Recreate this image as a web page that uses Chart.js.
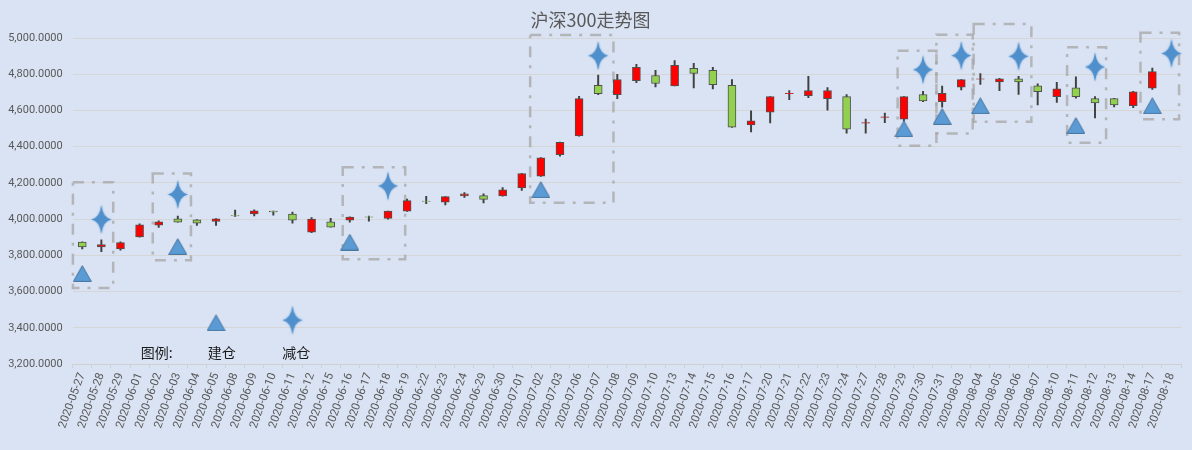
<!DOCTYPE html>
<html>
<head>
<meta charset="utf-8">
<title>沪深300走势图</title>
<script src="https://cdn.jsdelivr.net/npm/chart.js"></script>
<style>
  html, body { margin: 0; padding: 0; background: #dae3f3; }
  .chart-box { width: 1192px; height: 450px; position: relative; }
</style>
</head>
<body>
<div class="chart-box"><canvas id="hs300"></canvas></div>
<script>
// trading days
var dates = ['2020-05-27','2020-05-28','2020-05-29','2020-06-01','2020-06-02','2020-06-03','2020-06-04','2020-06-05',
    '2020-06-08','2020-06-09','2020-06-10','2020-06-11','2020-06-12','2020-06-15','2020-06-16','2020-06-17','2020-06-18',
    '2020-06-19','2020-06-22','2020-06-23','2020-06-24','2020-06-29','2020-06-30','2020-07-01','2020-07-02','2020-07-03',
    '2020-07-06','2020-07-07','2020-07-08','2020-07-09','2020-07-10','2020-07-13','2020-07-14','2020-07-15','2020-07-16',
    '2020-07-17','2020-07-20','2020-07-21','2020-07-22','2020-07-23','2020-07-24','2020-07-27','2020-07-28','2020-07-29',
    '2020-07-30','2020-07-31','2020-08-03','2020-08-04','2020-08-05','2020-08-06','2020-08-07','2020-08-10','2020-08-11',
    '2020-08-12','2020-08-13','2020-08-14','2020-08-17','2020-08-18'];

// OHLC (08-18 has no candle)
var opens  = [3873,3846,3835,3901,3967,4002,3996,3987,4020,4028,4044,4028,3928,3985,3994,4013,4004,4044,4100,4094,
    4128,4130,4128,4172,4237,4356,4459,4738,4687,4764,4793,4736,4832,4821,4738,4520,4591,4692,4682,4665,
    4676,4530,4562,4552,4688,4648,4729,4772,4758,4775,4736,4676,4725,4665,4665,4626,4723,null];
var closes = [3846,3859,3870,3969,3985,3983,3978,4002,4017,4046,4040,3994,4000,3956,4011,4011,4044,4102,4098,4124,
    4139,4109,4161,4252,4339,4424,4665,4693,4771,4838,4749,4849,4805,4743,4507,4542,4676,4694,4710,4710,
    4496,4533,4565,4676,4653,4694,4770,4775,4775,4758,4703,4720,4676,4642,4631,4703,4814,null];
var highs  = [3875,3886,3875,3974,3991,4017,3998,4003,4050,4051,4045,4039,4009,4004,4012,4017,4045,4111,4126,4125,
    4146,4139,4174,4253,4340,4425,4678,4795,4799,4855,4821,4875,4860,4838,4771,4598,4677,4710,4788,4726,
    4687,4552,4585,4677,4705,4735,4771,4803,4777,4788,4747,4755,4786,4676,4667,4705,4834,null];
var lows   = [3836,3820,3829,3900,3954,3983,3965,3965,4015,4017,4022,3978,3925,3955,3983,3989,4000,4043,4085,4078,
    4120,4089,4127,4159,4236,4348,4458,4687,4665,4754,4730,4735,4725,4719,4506,4481,4531,4660,4671,4602,
    4475,4475,4532,4541,4648,4618,4714,4744,4709,4689,4631,4644,4668,4559,4620,4615,4716,null];

// 建仓 / 减仓 signals
var buyIdx  = [0, 5, 14, 24, 43, 45, 47, 52, 56];
var buyVal  = [3700, 3849, 3873, 4163, 4499, 4567, 4626, 4517, 4626];
var sellIdx = [1, 5, 16, 27, 44, 46, 49, 53, 57];
var sellVal = [3998, 4136, 4183, 4902, 4825, 4903, 4899, 4840, 4915];

// dashed frames round each signal group (category index range, value range)
var boxFrom   = [-0.49, 3.69, 13.63, 23.44, 42.67, 44.7, 46.65, 51.54, 55.38];
var boxTo     = [1.62, 5.69, 16.9, 27.8, 44.7, 46.6, 49.67, 53.58, 57.4];
var boxTop    = [4204, 4252, 4286, 5017, 4930, 5018, 5077, 4949, 5029];
var boxBottom = [3619, 3773, 3779, 4090, 4405, 4473, 4538, 4422, 4552];

// legend drawn inside the plot
var legendText = ['图例:', '建仓', '减仓'];
var legendAt   = [3.9, 7.3, 11.2];
var legendTextVal = 3262;
var legendBuy  = {idx: 7, val: 3428};
var legendSell = {idx: 11, val: 3442};

function fullSeries(idx, val) {
    var out = dates.map(function () { return null; });
    idx.forEach(function (d, i) { out[d] = val[i]; });
    return out;
}

function makeTriangle() {
    var c = document.createElement('canvas');
    c.width = 19; c.height = 17;
    var g = c.getContext('2d');
    g.beginPath();
    g.moveTo(9.5, 0.7);
    g.lineTo(18.4, 16.4);
    g.lineTo(0.6, 16.4);
    g.closePath();
    g.fillStyle = '#5b9bd5';
    g.fill();
    g.strokeStyle = '#41719c';
    g.lineWidth = 1;
    g.stroke();
    return c;
}

// four-pointed star, long vertical arms
function makeStar(w, h) {
    var c = document.createElement('canvas');
    c.width = w + 4; c.height = h + 4;
    var g = c.getContext('2d');
    var cx = c.width / 2, cy = c.height / 2, k = 1.5;
    g.shadowColor = 'rgba(91,155,213,0.7)';
    g.shadowBlur = 2;
    g.beginPath();
    g.moveTo(cx, 2);
    g.quadraticCurveTo(cx + k, cy - k, cx + w / 2, cy);
    g.quadraticCurveTo(cx + k, cy + k, cx, cy + h / 2);
    g.quadraticCurveTo(cx - k, cy + k, cx - w / 2, cy);
    g.quadraticCurveTo(cx - k, cy - k, cx, 2);
    g.closePath();
    g.fillStyle = '#4f8fcc';
    g.fill();
    return c;
}

var triImg = makeTriangle();
var starImg = makeStar(20, 29);

var boxPlugin = {
    id: 'signalBoxes',
    beforeDatasetsDraw: function (chart) {
        var ctx = chart.ctx, xs = chart.scales.x, ys = chart.scales.y;
        ctx.save();
        ctx.strokeStyle = 'rgba(165,165,165,0.75)';
        ctx.lineWidth = 2.5;
        ctx.setLineDash([11, 8, 3, 8]);
        for (var i = 0; i < boxFrom.length; i++) {
            var x1 = xs.getPixelForValue(boxFrom[i]);
            var x2 = xs.getPixelForValue(boxTo[i]);
            var y1 = ys.getPixelForValue(boxTop[i]);
            var y2 = ys.getPixelForValue(boxBottom[i]);
            ctx.strokeRect(x1, y1, x2 - x1, y2 - y1);
        }
        ctx.restore();
    },
    afterDatasetsDraw: function (chart) {
        var ctx = chart.ctx, xs = chart.scales.x, ys = chart.scales.y;
        ctx.save();
        ctx.font = '14px "Noto Sans CJK SC", sans-serif';
        ctx.fillStyle = '#1a1a1a';
        ctx.textAlign = 'center';
        ctx.textBaseline = 'middle';
        legendText.forEach(function (t, i) {
            ctx.fillText(t, xs.getPixelForValue(legendAt[i]), ys.getPixelForValue(legendTextVal));
        });
        ctx.restore();
    }
};

var fmt = function (v) {
    return v.toLocaleString('en-US', {minimumFractionDigits: 4, maximumFractionDigits: 4});
};

var ctx = document.getElementById('hs300').getContext('2d');
var hsChart = new Chart(ctx, {
    type: 'bar',
    data: {
        labels: dates,
        datasets: [
            {
                label: '建仓',
                type: 'line',
                data: fullSeries(buyIdx.concat([legendBuy.idx]), buyVal.concat([legendBuy.val])),
                showLine: false,
                pointStyle: triImg,
                pointRadius: 10,
                order: 0
            },
            {
                label: '减仓',
                type: 'line',
                data: fullSeries(sellIdx.concat([legendSell.idx]), sellVal.concat([legendSell.val])),
                showLine: false,
                pointStyle: starImg,
                pointRadius: 10,
                order: 0
            },
            {
                label: 'body',
                data: opens.map(function (o, i) { return o === null ? null : [o, closes[i]]; }),
                backgroundColor: function (c) {
                    var i = c.dataIndex;
                    return closes[i] >= opens[i] ? '#ff0000' : '#92d050';
                },
                borderColor: '#505050',
                borderWidth: 1,
                borderSkipped: false,
                barThickness: 8,
                grouped: false,
                order: 1
            },
            {
                label: 'wick',
                data: lows.map(function (l, i) { return l === null ? null : [l, highs[i]]; }),
                backgroundColor: '#404040',
                barThickness: 1.3,
                grouped: false,
                order: 2
            }
        ]
    },
    options: {
        responsive: true,
        maintainAspectRatio: false,
        animation: false,
        layout: { padding: { left: 0, right: 11, top: 0, bottom: 0 } },
        plugins: {
            legend: { display: false },
            tooltip: { enabled: false },
            title: {
                display: true,
                text: '沪深300走势图',
                color: '#595959',
                font: { family: '"Noto Sans CJK SC", sans-serif', size: 18, weight: 'normal' },
                padding: { top: 9, bottom: 7.4 }
            }
        },
        scales: {
            x: {
                ticks: {
                    autoSkip: false,
                    minRotation: 70,
                    maxRotation: 70,
                    color: '#595959',
                    font: { family: 'Roboto', size: 11.5 },
                    padding: 3
                },
                grid: { drawOnChartArea: false, drawTicks: true, tickLength: 4, color: '#d0d0d0' },
                border: { color: '#d0d0d0' },
                afterFit: function (s) { s.height = 86; }
            },
            y: {
                min: 3200,
                max: 5000,
                ticks: {
                    stepSize: 200,
                    color: '#595959',
                    font: { family: 'Roboto', size: 11 },
                    padding: 10,
                    callback: function (v) { return fmt(v); }
                },
                grid: { color: '#d6d6d6', drawTicks: false },
                border: { display: false },
                afterFit: function (s) { s.width = 72.7; }
            }
        }
    },
    plugins: [boxPlugin]
});
</script>
</body>
</html>
